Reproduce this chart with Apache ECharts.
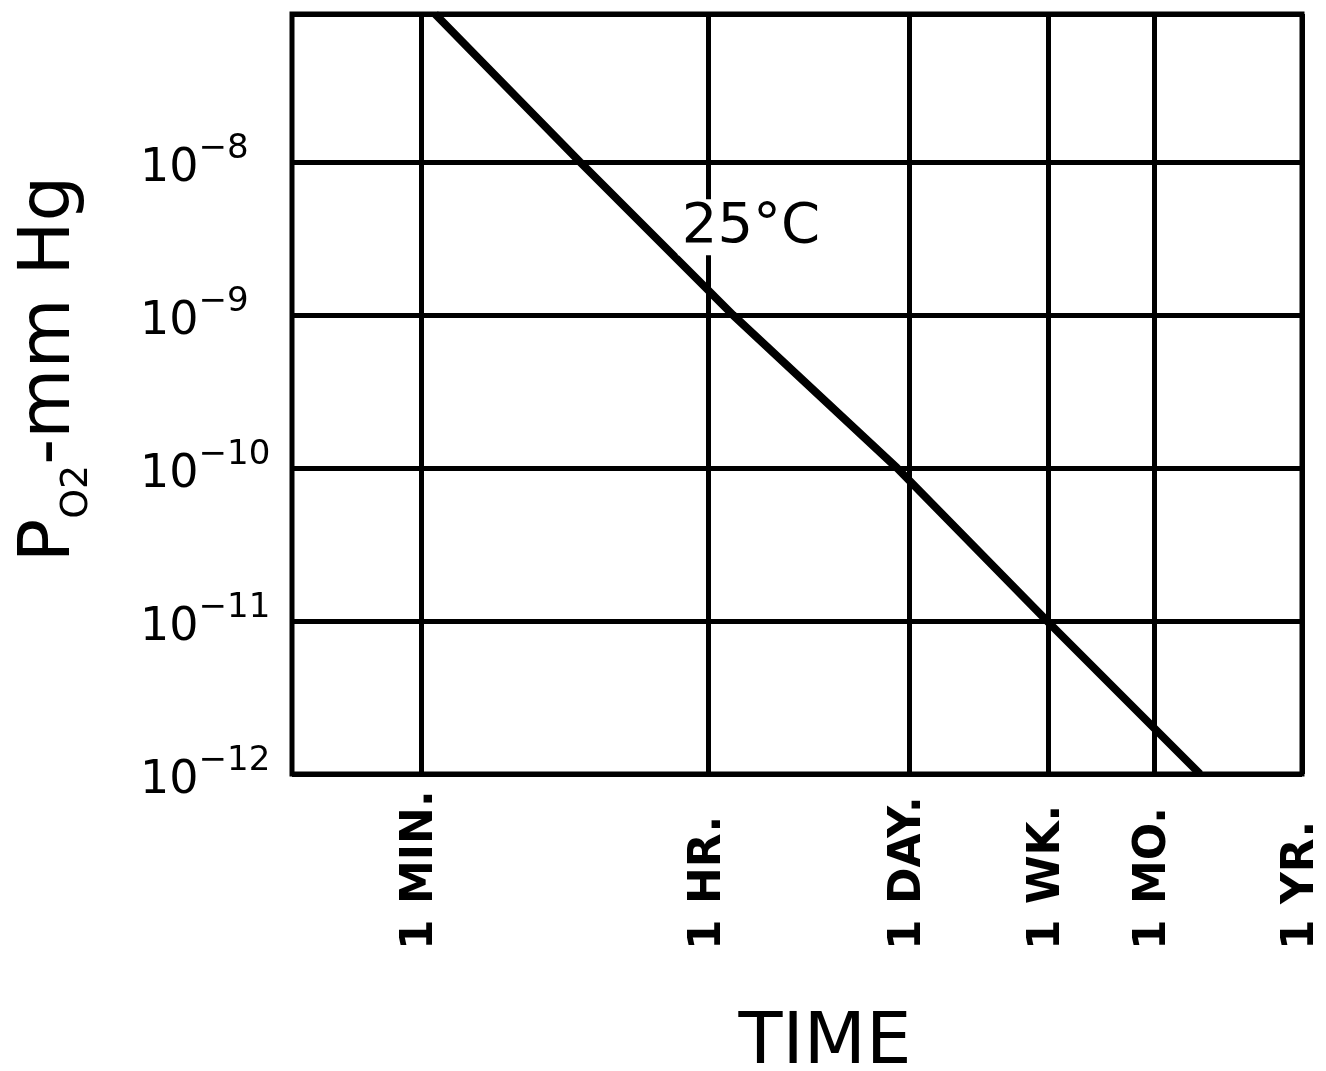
<!DOCTYPE html>
<html><head><meta charset="utf-8">
<script src="https://cdn.jsdelivr.net/npm/echarts@6/dist/echarts.min.js"></script>
<style>html,body{margin:0;padding:0;background:#fff}#c{width:1326px;height:1071px}</style>
</head><body><div id="c"></div>
<script>
// Time axis: log10(time in minutes), positions as drawn on the original hand-made axis
const timeLabels = ['1 MIN.', '1 HR.', '1 DAY.', '1 WK.', '1 MO.', '1 YR.'];
const timeTicks = [0, 1.858, 3.158, 4.058, 4.744, 5.702];
// The 25 °C curve (x in log10 minutes, y in mm Hg)
const curveX = [0.091, 1.029, 2.019, 3.081, 4.052, 5.042];
const curveY = [9.27e-8, 1e-8, 1e-9, 1e-10, 1e-11, 1e-12];
const curveName = '25°C';
const curveLabelAt = [2.136, 3.75e-9];

const FONT = 'DejaVu Sans';
const chart = echarts.init(document.getElementById('c'), null, {renderer: 'canvas'});

function timeLabel(v) {
  for (let i = 0; i < timeTicks.length; i++) {
    if (Math.abs(timeTicks[i] - v) < 1e-6) return timeLabels[i];
  }
  return '';
}
function pressureLabel(v) {
  const e = Math.round(Math.log10(v));
  if (e > -8 || e < -12) return '';
  return '{b|10}{s|\u2212' + (-e) + '}';
}

chart.setOption({
  animation: false,
  backgroundColor: '#fff',
  grid: {left: 292, right: 24, top: 14, bottom: 297, containLabel: false, outerBoundsMode: 'none',
         show: true, borderColor: '#000', borderWidth: 5, backgroundColor: 'transparent'},
  xAxis: {
    type: 'value', min: -0.835, max: 5.702,
    axisLine: {show: false},
    axisTick: {show: false, customValues: timeTicks},
    splitLine: {show: true, lineStyle: {color: '#000', width: 5}},
    axisLabel: {
      customValues: timeTicks, rotate: 90, align: 'left', verticalAlign: 'middle', margin: 176,
      formatter: timeLabel, fontSize: 44, fontWeight: 'bold', color: '#000', fontFamily: FONT
    },
    name: 'TIME', nameLocation: 'middle', nameGap: 234,
    nameTextStyle: {fontSize: 72, color: '#000', fontFamily: FONT, padding: [0, 0, 0, 56]}
  },
  yAxis: {
    type: 'log', logBase: 10, min: 1e-12, max: 9.27e-8,
    axisLine: {show: false}, axisTick: {show: false},
    splitLine: {show: true, lineStyle: {color: '#000', width: 5}},
    axisLabel: {
      align: 'left', margin: 152, formatter: pressureLabel, color: '#000',
      rich: {
        b: {fontSize: 46, fontFamily: FONT, color: '#000', lineHeight: 60, verticalAlign: 'bottom'},
        s: {fontSize: 34, fontFamily: FONT, color: '#000', lineHeight: 60, verticalAlign: 'top'}
      }
    },
    name: '{a|P}{sub|O2}{a|-mm Hg}', nameLocation: 'middle', nameRotate: 90, nameGap: 196,
    nameTextStyle: {
      padding: [0, 0, 0, 50],
      rich: {
        a: {fontSize: 72, fontFamily: FONT, color: '#000', lineHeight: 92, verticalAlign: 'middle'},
        sub: {fontSize: 38, fontFamily: FONT, color: '#000', lineHeight: 92, verticalAlign: 'bottom'}
      }
    }
  },
  series: [{
    type: 'line', name: curveName, silent: true,
    data: curveX.map((x, i) => [x, curveY[i]]),
    symbol: 'none', lineStyle: {color: '#000', width: 8}, z: 3,
    markPoint: {
      symbol: 'rect', symbolSize: 0, silent: true,
      data: [{coord: curveLabelAt, value: curveName}],
      label: {show: true, position: 'inside', formatter: curveName, fontSize: 56, fontFamily: FONT, color: '#000', backgroundColor: '#fff', padding: [0, 4]}
    }
  }]
});
</script></body></html>
